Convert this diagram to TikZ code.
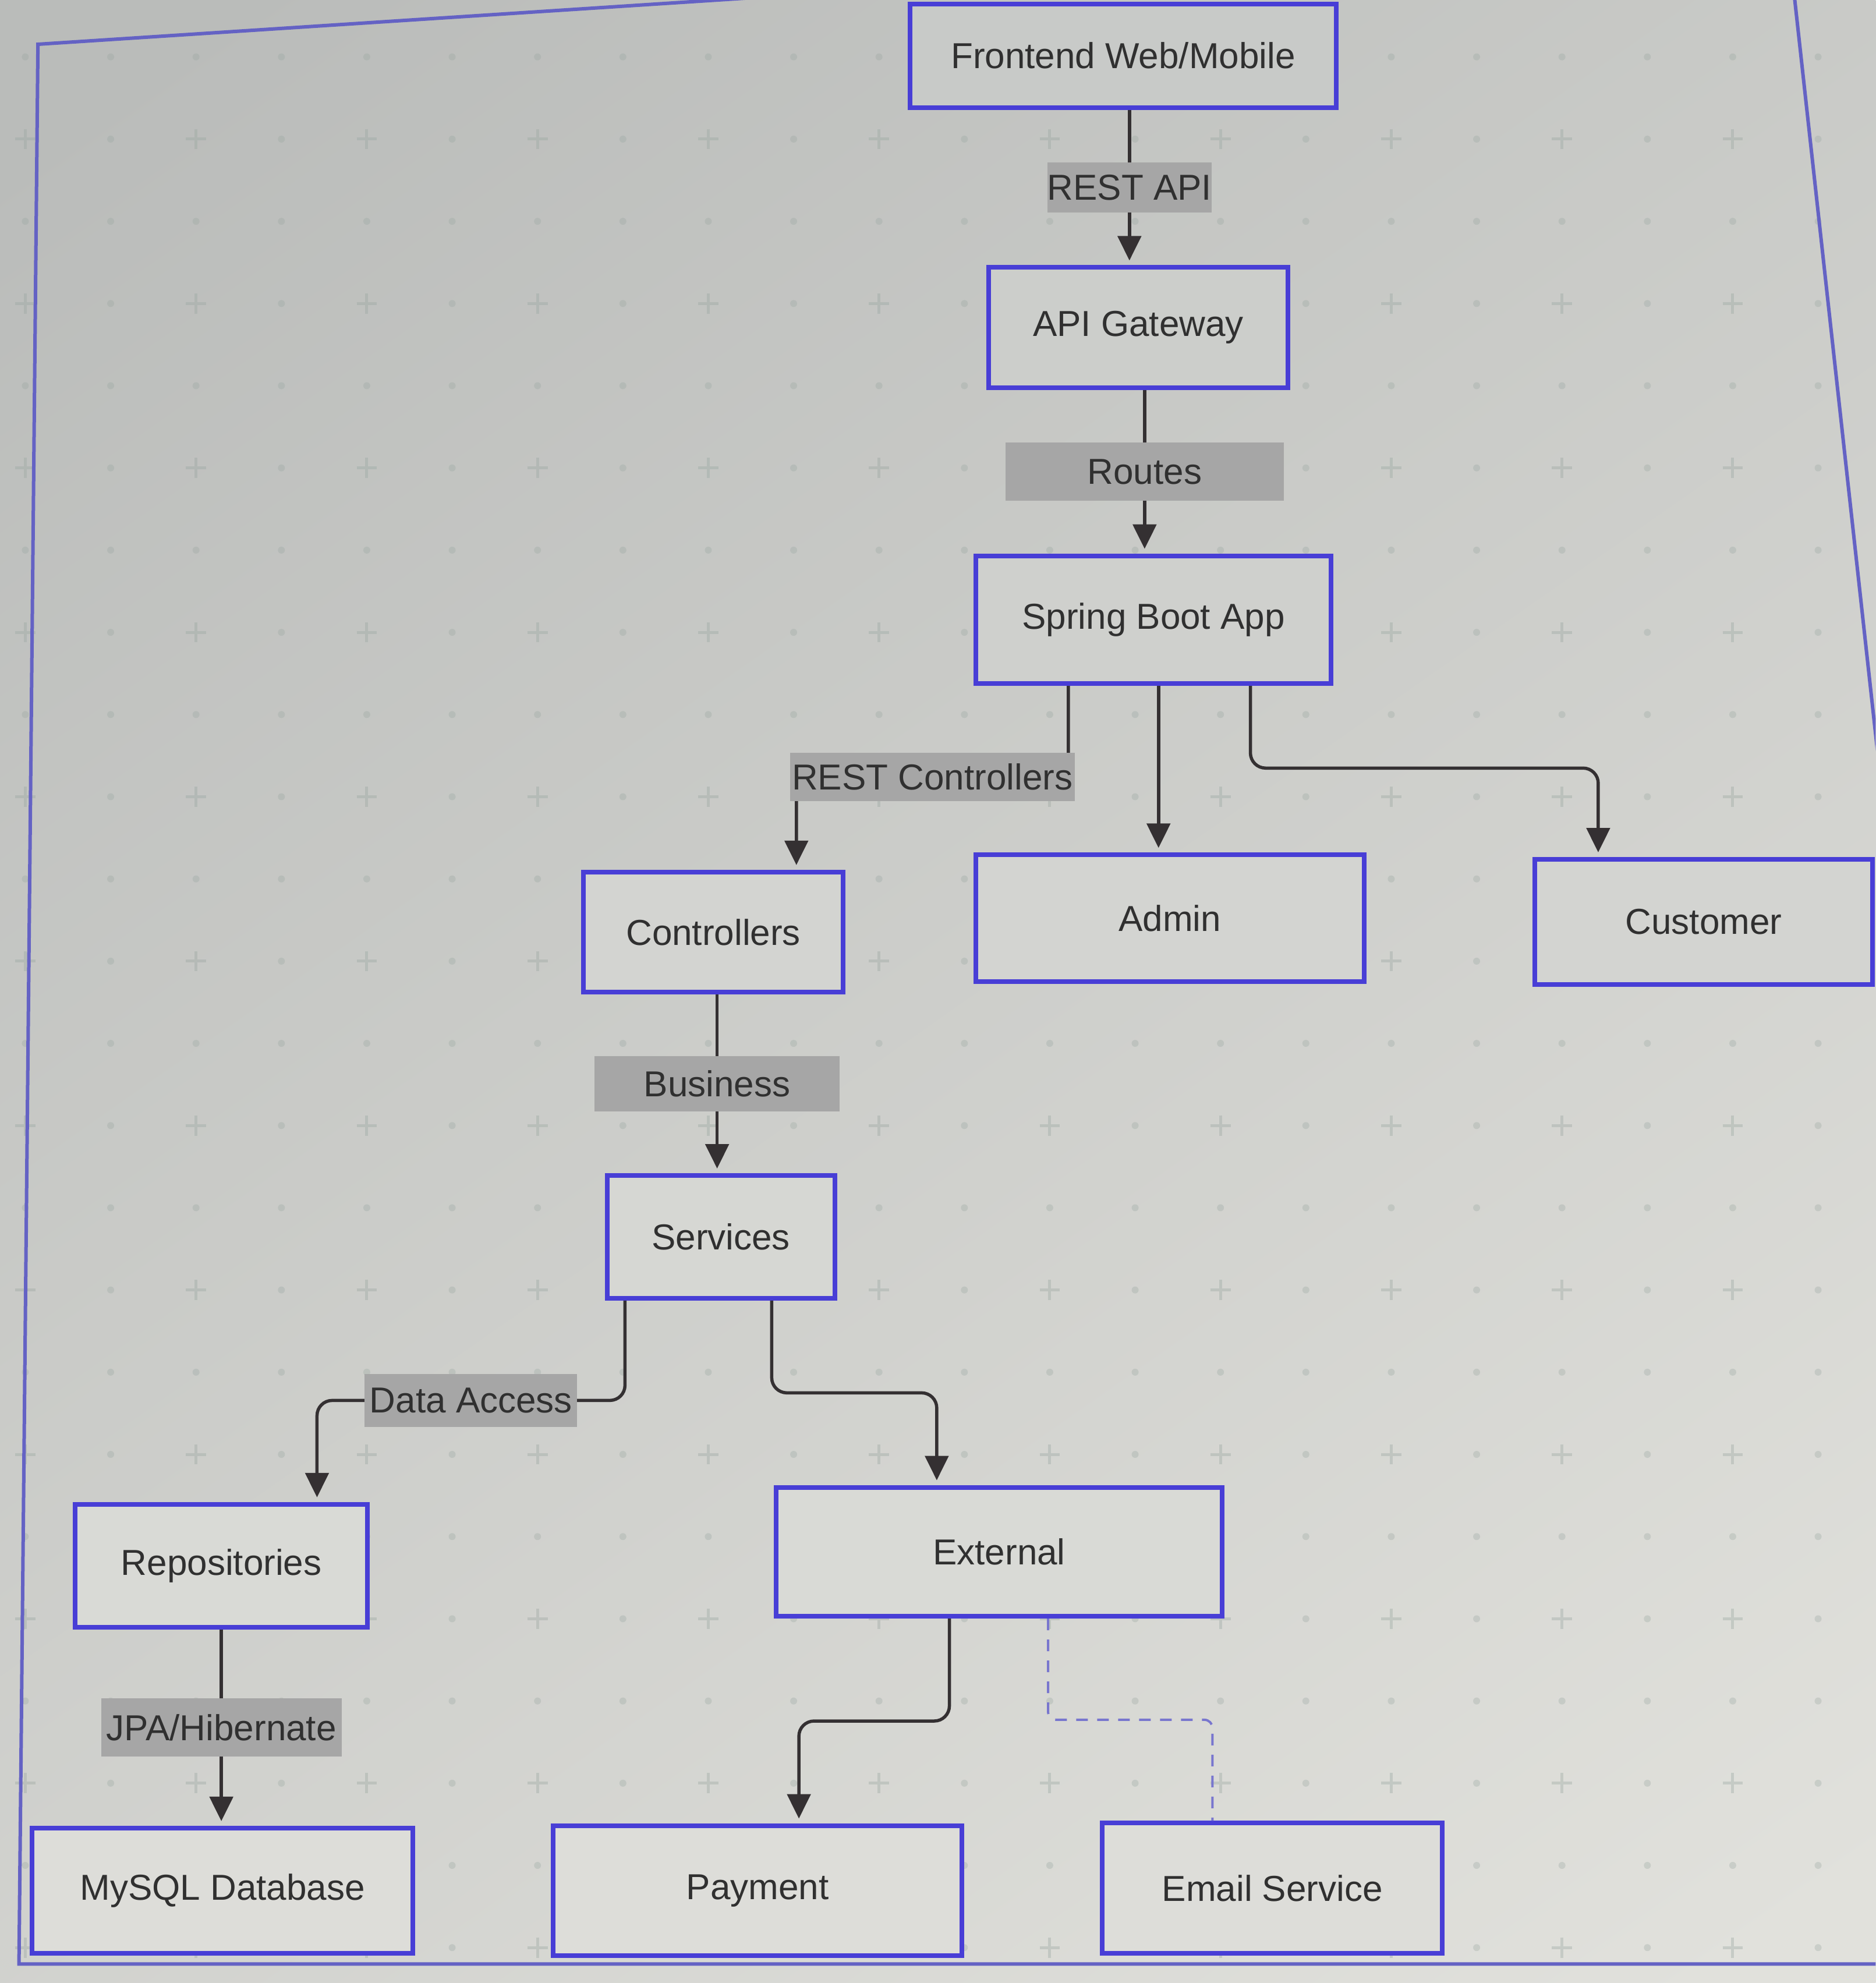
\documentclass[tikz,border=0pt]{standalone}
\usepackage{fontspec}
\setmainfont{Liberation Sans}
\usetikzlibrary{arrows.meta,calc}
\definecolor{boxblue}{RGB}{72,62,214}
\definecolor{framec}{RGB}{100,98,196}
\definecolor{linec}{RGB}{52,48,50}
\definecolor{dashc}{RGB}{120,118,206}
\definecolor{labgray}{RGB}{166,166,166}
\definecolor{txt}{RGB}{48,48,48}
\definecolor{bgA}{RGB}{186,188,186}
\definecolor{bgB}{RGB}{225,225,220}
\definecolor{markc}{RGB}{150,164,158}
\definecolor{fA}{RGB}{200,202,200}
\definecolor{fB}{RGB}{204,206,203}
\definecolor{fC}{RGB}{207,208,205}
\definecolor{fD}{RGB}{211,212,209}
\definecolor{fE}{RGB}{214,215,211}
\definecolor{fF}{RGB}{217,218,214}
\definecolor{fG}{RGB}{221,221,217}
\def\px{2.1726pt}
\begin{document}
\begin{tikzpicture}[x=2.1726pt,y=-2.1726pt,
  box/.style={draw=boxblue, line width=8pt, fill=#1, text=txt, inner sep=0pt,
    font=\fontsize{62}{62}\selectfont},
  lab/.style={sharp corners, fill=labgray, text=txt, inner sep=0pt, font=\fontsize{62}{62}\selectfont},
  conn/.style={draw=linec, line width=5.5pt, rounded corners=26pt, shorten >=8pt,
    -{Triangle[length=42pt,width=40pt]}},
  dconn/.style={draw=dashc, line width=4pt, rounded corners=14pt, dash pattern=on 20pt off 16pt},
  plusm/.style={draw=markc, line width=5pt, opacity=0.35},
  dotm/.style={fill=markc, opacity=0.3}]
\useasboundingbox (0,0) rectangle (1483,1568);
\clip (0,0) rectangle (1483,1568);
% background
\shade[shading=axis, top color=bgA, bottom color=bgB, shading angle=35] (-200,-200) rectangle (1700,1800);
% grid marks
\foreach \i in {0,...,22}{
  \foreach \j in {0,...,25}{
    \pgfmathsetmacro\X{20+67.5*\i}
    \pgfmathsetmacro\Y{-20+65*\j}
    \pgfmathtruncatemacro\K{mod(\i,2)+mod(\j,2)}
    \ifnum\K=0
      \draw[plusm] (\X-8,\Y) -- (\X+8,\Y) (\X,\Y-8) -- (\X,\Y+8);
    \else
      \fill[dotm] (\X,\Y) circle[radius=6pt];
    \fi
  }
}
% frame
\draw[framec, line width=6pt] (30,35) -- (1413,-55) -- (1590,1553) -- (15,1553) -- cycle;
% nodes
\node[box=fA, minimum width=337*\px, minimum height=82*\px] (fe) at (888,44) {Frontend Web/Mobile};
\node[box=fB, minimum width=237*\px, minimum height=95*\px] (gw) at (900,259) {API Gateway};
\node[box=fC, minimum width=281*\px, minimum height=101*\px] (sb) at (912,490) {Spring Boot App};
\node[box=fD, minimum width=205*\px, minimum height=95*\px] (ctl) at (564,737) {Controllers};
\node[box=fD, minimum width=307*\px, minimum height=100*\px] (adm) at (925,726) {Admin};
\node[box=fD, minimum width=267*\px, minimum height=99*\px] (cus) at (1347,729) {Customer};
\node[box=fE, minimum width=180*\px, minimum height=97*\px] (svc) at (570,978) {Services};
\node[box=fF, minimum width=231*\px, minimum height=97*\px] (rep) at (175,1238) {Repositories};
\node[box=fF, minimum width=353*\px, minimum height=102*\px] (ext) at (790,1227) {External};
\node[box=fG, minimum width=301*\px, minimum height=99*\px] (db) at (176,1495) {MySQL Database};
\node[box=fG, minimum width=323*\px, minimum height=103*\px] (pay) at (599,1495) {Payment};
\node[box=fG, minimum width=269*\px, minimum height=103*\px] (mail) at (1006,1493) {Email Service};
% connectors
\draw[conn] ($(fe.south)+(5,0)$) -- node[lab, minimum width=130*\px, minimum height=40*\px] (l1) {REST API} ($(gw.north)+(-7,0)$);
\draw[conn] ($(gw.south)+(5,0)$) -- node[lab, minimum width=220*\px, minimum height=46*\px] (l2) {Routes} ($(sb.north)+(-7,0)$);
\draw[conn] ($(sb.south west)+(75,0)$) -- ++(0,72) -| node[lab, pos=0.25, minimum width=225*\px, minimum height=38*\px] (l3) {REST Controllers} ($(ctl.north west)+(170,0)$);
\draw[conn] ($(sb.south)+(4,0)$) -- ($(adm.north)+(-9,0)$);
\draw[conn] ($(sb.south west)+(219,0)$) -- ++(0,65) -| ($(cus.north west)+(52,0)$);
\draw[conn] ($(ctl.south)+(3,0)$) -- node[lab, minimum width=194*\px, minimum height=44*\px] (l4) {Business} ($(svc.north)+(-3,0)$);
\draw[conn] ($(svc.south west)+(16,0)$) -- ++(0,79) -| node[lab, pos=0.25, minimum width=168*\px, minimum height=42*\px] (l5) {Data Access} ($(rep.north west)+(193,0)$);
\draw[conn] ($(svc.south west)+(132,0)$) -- ++(0,73) -| ($(ext.north west)+(129,0)$);
\draw[conn] (rep.south) -- node[lab, minimum width=190*\px, minimum height=46*\px] (l6) {JPA/Hibernate} (rep.south |- db.north);
\draw[conn] ($(ext.south west)+(139,0)$) -- ++(0,81) -| ($(pay.north west)+(196,0)$);
\draw[dconn] ($(ext.south west)+(217,0)$) -- ++(0,80) -| ($(mail.north west)+(89,0)$);
\end{tikzpicture}
\end{document}
